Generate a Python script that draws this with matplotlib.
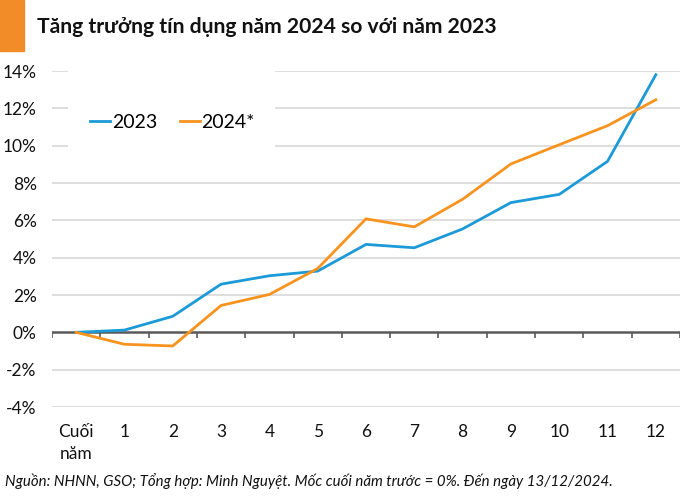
import matplotlib
matplotlib.use("Agg")
import matplotlib.pyplot as plt
import matplotlib.patches as patches

plt.rcParams['font.family'] = ['Lato', 'DejaVu Sans']

# dữ liệu (%)
months = ["Cuối\nnăm", "1", "2", "3", "4", "5", "6", "7", "8", "9", "10", "11", "12"]
growth_2023 = [0.0, 0.12, 0.86, 2.58, 3.03, 3.28, 4.71, 4.53, 5.54, 6.95, 7.39, 9.16, 13.8]
growth_2024 = [0.0, -0.64, -0.73, 1.44, 2.03, 3.42, 6.08, 5.65, 7.13, 9.02, 10.05, 11.07, 12.46]
yticks = [-4, -2, 0, 2, 4, 6, 8, 10, 12, 14]

blue = "#1b9ad7"
orange = "#f7931e"

fig = plt.figure(figsize=(7.0, 5.01), dpi=100)
ax = fig.add_axes([52 / 700, 1 - 407 / 501, 628 / 700, 336 / 501])

x = list(range(len(months)))
ax.set_xlim(-0.5, len(months) - 0.5)
ax.set_ylim(-4, 14)

for t in yticks:
    if t != 0:
        ax.axhline(t, color="#d4d4d4", lw=1.1, zorder=0)
ax.axhline(0, color="#595959", lw=1.8, zorder=1)
ax.vlines([i - 0.5 for i in range(len(months) + 1)], -0.3, 0, color="#595959", lw=1.2, zorder=1)

ax.plot(x, growth_2023, color=blue, lw=2.0, label="2023", zorder=3)
ax.plot(x, growth_2024, color=orange, lw=2.0, label="2024*", zorder=3)

ax.set_yticks(yticks)
ax.set_yticklabels([f"{t}%" for t in yticks], fontsize=12.5, color="#111111")
ax.set_xticks(x)
ax.set_xticklabels(months, fontsize=12.5, color="#111111", va="top", linespacing=1.45)
ax.tick_params(axis="both", length=0)
ax.tick_params(axis="x", pad=12)
ax.tick_params(axis="y", pad=11)
for s in ax.spines.values():
    s.set_visible(False)

# nền trắng sau chú giải (che đường lưới)
ax.add_patch(patches.Rectangle((16 / 628, 257 / 336), 207 / 628, 0.25, transform=ax.transAxes,
                               facecolor="white", edgecolor="none", zorder=2, clip_on=False))
leg = ax.legend(loc="center", bbox_to_anchor=(120.5 / 628, 285 / 336), ncol=2, fontsize=14,
                frameon=False, handlelength=1.05, handletextpad=0.08, columnspacing=1.15,
                borderpad=0, borderaxespad=0)
leg.set_zorder(4)

# tiêu đề với thanh màu cam bên trái
fig.patches.append(patches.Rectangle((0, 1 - 51 / 501), 24 / 700, 51 / 501,
                                     transform=fig.transFigure, color="#f28c28", zorder=0))
fig.text(37 / 700, 1 - 27 / 501, "Tăng trưởng tín dụng năm 2024 so với năm 2023",
         fontsize=15.2, fontweight="bold", va="center", ha="left", color="#111111")

fig.text(5 / 700, 1 - 481 / 501,
         "Nguồn: NHNN, GSO; Tổng hợp: Minh Nguyệt. Mốc cuối năm trước = 0%. Đến ngày 13/12/2024.",
         fontsize=10.8, style="italic", va="center", ha="left", color="#111111")

fig.savefig("out.png", dpi=100, facecolor="white")
